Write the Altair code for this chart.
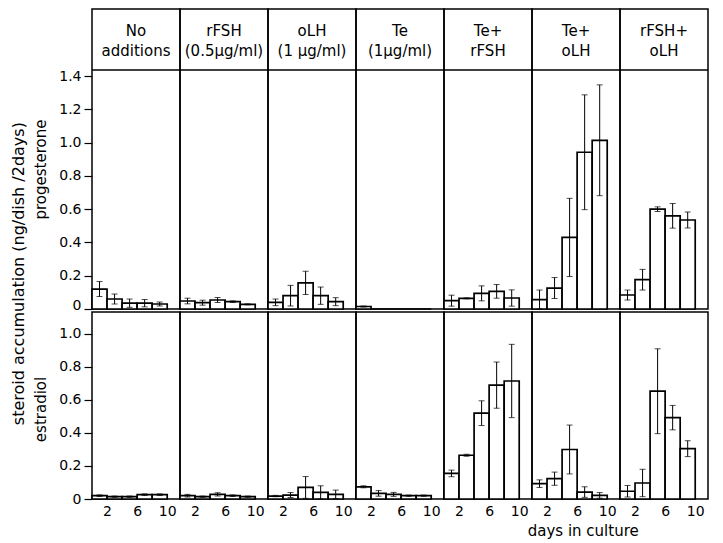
import altair as alt
import pandas as pd

FONT = "DejaVu Sans"

treatments = ["No additions", "rFSH (0.5µg/ml)", "oLH (1µg/ml)", "Te (1µg/ml)",
              "Te+ rFSH", "Te+ oLH", "rFSH+ oLH"]
header_line1 = ["No", "rFSH", "oLH", "Te", "Te+", "Te+", "rFSH+"]
header_line2 = ["additions", "(0.5µg/ml)", "(1 µg/ml)", "(1µg/ml)", "rFSH", "oLH", "oLH"]
days = [2, 4, 6, 8, 10]

# progesterone (ng/dish/2days), one list per treatment
prog_mean = [
    [0.12, 0.06, 0.035, 0.035, 0.03],
    [0.048, 0.038, 0.054, 0.044, 0.028],
    [0.04, 0.08, 0.157, 0.08, 0.044],
    [0.015, 0.0, 0.0, 0.0, 0.0],
    [0.05, 0.064, 0.094, 0.106, 0.066],
    [0.056, 0.126, 0.43, 0.942, 1.014],
    [0.084, 0.176, 0.60, 0.56, 0.535],
]
prog_se = [
    [0.045, 0.03, 0.025, 0.022, 0.012],
    [0.017, 0.015, 0.015, 0.005, 0.003],
    [0.02, 0.062, 0.07, 0.052, 0.024],
    [0.003, 0.0, 0.0, 0.0, 0.0],
    [0.033, 0.003, 0.045, 0.041, 0.049],
    [0.058, 0.063, 0.235, 0.345, 0.333],
    [0.03, 0.062, 0.014, 0.074, 0.048],
]
# estradiol (ng/dish/2days)
estr_mean = [
    [0.02, 0.014, 0.014, 0.026, 0.026],
    [0.02, 0.014, 0.028, 0.02, 0.014],
    [0.018, 0.024, 0.07, 0.04, 0.028],
    [0.074, 0.034, 0.028, 0.02, 0.02],
    [0.155, 0.265, 0.52, 0.69, 0.715],
    [0.093, 0.123, 0.30, 0.042, 0.022],
    [0.047, 0.097, 0.653, 0.493, 0.305],
]
estr_se = [
    [0.005, 0.004, 0.004, 0.005, 0.005],
    [0.008, 0.004, 0.01, 0.005, 0.004],
    [0.004, 0.015, 0.066, 0.04, 0.026],
    [0.006, 0.017, 0.012, 0.004, 0.004],
    [0.02, 0.006, 0.075, 0.14, 0.222],
    [0.023, 0.04, 0.148, 0.032, 0.017],
    [0.035, 0.083, 0.257, 0.074, 0.048],
]

prog_ticks = [0, 0.2, 0.4, 0.6, 0.8, 1.0, 1.2, 1.4]
estr_ticks = [0, 0.2, 0.4, 0.6, 0.8, 1.0]
x_ticks = [2, 6, 10]


def build_df(means, ses):
    rows = []
    for i, t in enumerate(treatments):
        for j, d in enumerate(days):
            m = means[i][j]
            s = ses[i][j]
            rows.append(dict(treatment=t, line1=header_line1[i], line2=header_line2[i],
                             day=d, x0=d - 2, xc=d - 1, mean=m, se=s,
                             lo=max(m - s, 0), hi=m + s))
    return pd.DataFrame(rows)


df_prog = build_df(prog_mean, prog_se)
df_estr = build_df(estr_mean, estr_se)

PANEL_W = 88
PROG_H = 300
ESTR_H = 187
X_DOMAIN = [0, 11.7]

label_expr = "datum.value == 0 ? '0' : format(datum.value, '.1f')"


def panel(domain_top, ticks, title, title_y, height, show_x, header):
    xscale = alt.Scale(domain=X_DOMAIN, nice=False, zero=False)
    yscale = alt.Scale(domain=[0, domain_top], nice=False)
    if show_x:
        xaxis = alt.Axis(values=x_ticks, ticks=False, domain=False, grid=False,
                         labelFont=FONT, labelFontSize=14, labelColor="black",
                         labelPadding=5, title=None)
    else:
        xaxis = None
    yaxis = alt.Axis(values=ticks, labelExpr=label_expr, grid=False, domain=False,
                     tickSize=8, tickColor="black", tickWidth=1.2,
                     labelFont=FONT, labelFontSize=14, labelColor="black", labelPadding=3,
                     labelFlush=header, labelFlushOffset=3,
                     title=title, titleFont=FONT, titleFontSize=15, titleFontWeight="normal",
                     titleColor="black", titlePadding=4, titleY=title_y,
                     minExtent=40, maxExtent=40)
    X = lambda f: alt.X(f, scale=xscale, axis=xaxis)
    Y = lambda f: alt.Y(f, scale=yscale, axis=yaxis)

    base = alt.Chart()
    bars = base.mark_bar(fill="white", stroke="black", strokeWidth=1.7).encode(
        x=X("x0:Q"), x2="day:Q", y=Y("mean:Q"), y2=alt.datum(0))
    err = base.transform_filter("datum.se > 0")
    rule = err.mark_rule(color="black", strokeWidth=1).encode(
        x=X("xc:Q"), y=Y("lo:Q"), y2="hi:Q")
    cap_lo = err.mark_tick(color="black", orient="horizontal", size=6, thickness=1).encode(
        x=X("xc:Q"), y=Y("lo:Q"))
    cap_hi = err.mark_tick(color="black", orient="horizontal", size=6, thickness=1).encode(
        x=X("xc:Q"), y=Y("hi:Q"))
    layers = [bars, rule, cap_lo, cap_hi]
    if header:
        hd = base.transform_filter("datum.day == 2")
        hrule = hd.mark_rule(color="black", strokeWidth=1.5).encode(
            y=alt.value(61), x=alt.value(0), x2=alt.value(PANEL_W))
        t1 = hd.mark_text(font=FONT, fontSize=15, color="black", baseline="middle",
                          align="center").encode(x=alt.value(PANEL_W / 2), y=alt.value(22),
                                                 text="line1:N")
        t2 = hd.mark_text(font=FONT, fontSize=15, color="black", baseline="middle",
                          align="center").encode(x=alt.value(PANEL_W / 2), y=alt.value(42),
                                                 text="line2:N")
        layers += [hrule, t1, t2]
    return alt.layer(*layers).properties(width=PANEL_W, height=height)


prog_chart = panel(1.803, prog_ticks, "progesterone", 160, PROG_H, False, True).facet(
    column=alt.Column("treatment:N", sort=treatments, header=None),
    data=df_prog, spacing=0, bounds="flush")

estr_chart = panel(1.133, estr_ticks, "estradiol", 97, ESTR_H, True, False).facet(
    column=alt.Column("treatment:N", sort=treatments, header=None),
    data=df_estr, spacing=0, bounds="flush").properties(
    title=alt.TitleParams("days in culture", orient="bottom", anchor="end", dx=-70,
                          offset=6, font=FONT, fontSize=15, fontWeight="normal",
                          color="black"))

chart = alt.vconcat(prog_chart, estr_chart, spacing=-2).properties(
    title=alt.TitleParams("steroid accumulation (ng/dish /2days)", orient="left",
                          anchor="middle", font=FONT, fontSize=16, fontWeight="normal",
                          color="black", offset=6),
    padding={"left": 2, "top": 0, "right": 2, "bottom": 0},
).configure(background="white").configure_view(stroke="black", strokeWidth=1.5)

chart.save("out.html", embed_options={"renderer": "svg", "actions": False})
